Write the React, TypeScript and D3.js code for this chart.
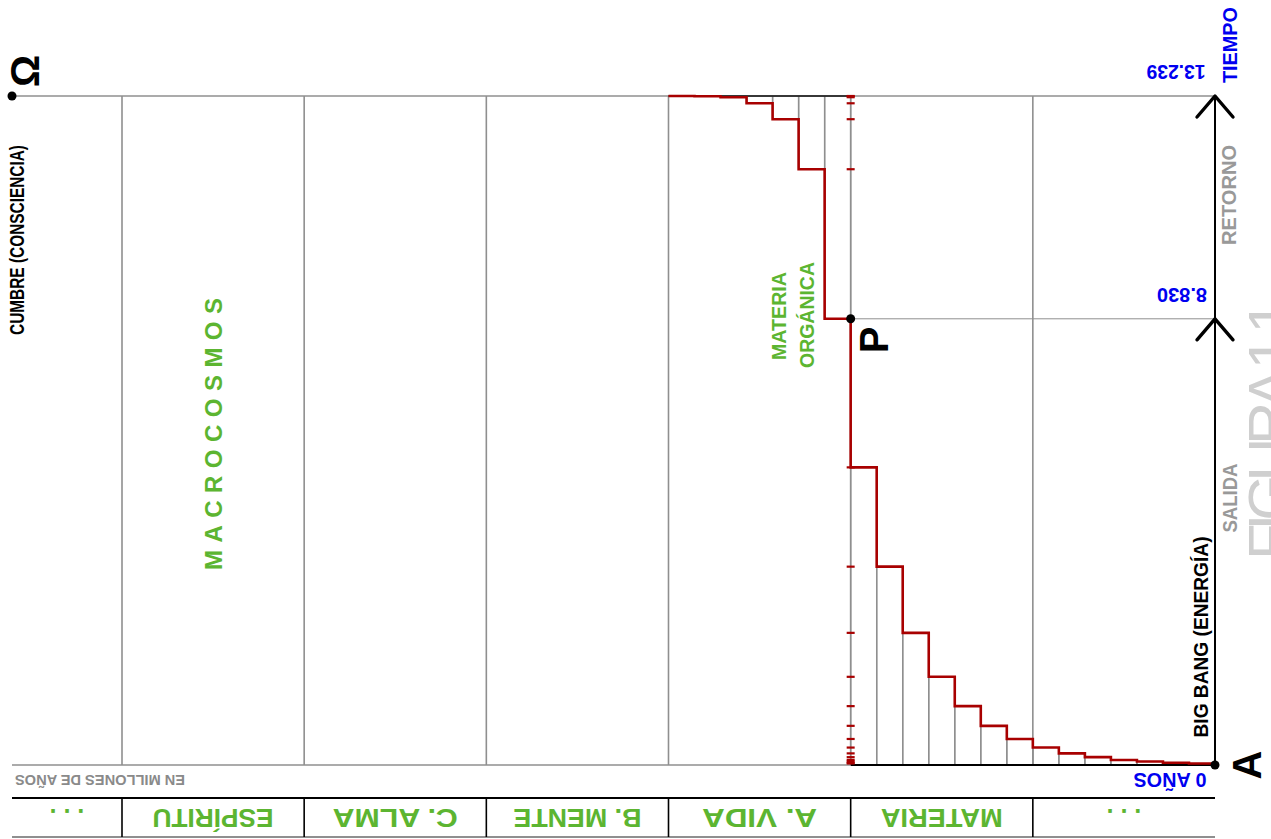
import React, { useEffect } from 'react';
import * as d3 from 'd3';

// time axis, millions of years
const TOTAL_AGE = 13239;
const P_AGE = 8830;
const timeTicks = [13239, 8830, 0];
const timeTickLabels = ['13.239', '8.830', '0 AÑOS'];

// bottom table, one label per column (first column is the narrow one)
const columnLabels = ['. . .', 'ESPÍRITU', 'C. ALMA', 'B. MENTE', 'A. VIDA', 'MATERIA', '. . .'];
const columnLabelWidths = [0, 121, 125, 128, 115, 122, 0];

// red staircase: one level per seventh of a column
const stepsVida = [13239, 13234, 13215, 13095, 12780, 11790, 8830];
const stepsMateria = [5890, 3925, 2615, 1745, 1165, 775, 515, 345, 230, 155, 100, 68, 45, 30];

const W = 1271;
const H = 839;
const LEFT = 12;
const FONT = '"Liberation Sans", Arial, sans-serif';
const RED = '#a80000';
const GREEN = '#5cb531';
const BLUE = '#0000f0';
const GRID = '#8f8f8f';

type VText = {
    text: string; cx: number; cy: number; len?: number; size: number;
    color: string; rot: number; weight?: string | number; spacing?: boolean;
};

const T = ({ t }: { t: VText }) => (
    <text
        transform={`translate(${t.cx},${t.cy}) rotate(${t.rot})`}
        textAnchor="middle"
        dy="0.36em"
        fontFamily={FONT}
        fontWeight={t.weight ?? 'bold'}
        fontSize={t.size}
        fill={t.color}
        textLength={t.len}
        lengthAdjust={t.spacing ? 'spacing' : 'spacingAndGlyphs'}
    >
        {t.text}
    </text>
);

export default function App() {
    useEffect(() => {
        document.body.style.margin = '0';
    }, []);

    const x = d3.scaleLinear().domain([1, 7]).range([122, 1215]);
    const y = d3.scaleLinear().domain([0, TOTAL_AGE]).range([765, 96]);

    const yTop = y(TOTAL_AGE);
    const yBase = y(0);
    const xAxis = x(7);
    const xP = x(5);
    const yP = y(P_AGE);

    // staircase points
    const allSteps = [...stepsVida, ...stepsMateria];
    const stepX = (i: number) => x(4 + i / 7);
    const pts: [number, number][] = allSteps.map((v, i) => [stepX(i), y(v)]);
    pts.push([stepX(allSteps.length), y(allSteps[allSteps.length - 1])]);
    const stepLine = d3.line().curve(d3.curveStepAfter)(pts) || '';

    // thin gray bar edges under the staircase
    const barEdges: { x: number; y1: number; y2: number }[] = [];
    stepsVida.forEach((v, i) => {
        barEdges.push({ x: stepX(i), y1: yTop, y2: y(v) });
        barEdges.push({ x: stepX(i + 1), y1: yTop, y2: y(v) });
    });
    stepsMateria.forEach((v, i) => {
        const k = i + stepsVida.length;
        barEdges.push({ x: stepX(k), y1: yBase, y2: y(v) });
        barEdges.push({ x: stepX(k + 1), y1: yBase, y2: y(v) });
    });

    const colEdges = d3.range(1, 7);
    const colCenters = columnLabels.map((_, i) => (i === 0 ? (LEFT + x(1)) / 2 : x(i + 0.5)));

    const tableTop = 798;
    const tableBottom = 837;

    const texts: VText[] = [
        { text: 'Ω', cx: 25, cy: 71, size: 40, color: '#000', rot: -90 },
        { text: 'CUMBRE (CONSCIENCIA)', cx: 17, cy: 240, len: 190, size: 20, color: '#000', rot: -90 },
        { text: 'MACROCOSMOS', cx: 213, cy: 434, len: 272, size: 24, color: GREEN, rot: -90, spacing: true },
        { text: 'MATERIA', cx: 778, cy: 316, len: 88, size: 21, color: GREEN, rot: -90 },
        { text: 'ORGÁNICA', cx: 806, cy: 315, len: 106, size: 21, color: GREEN, rot: -90 },
        { text: 'P', cx: 874, cy: 340, size: 40, color: '#000', rot: -90 },
        { text: 'A', cx: 1247, cy: 765, size: 40, color: '#000', rot: -90 },
        { text: 'BIG BANG (ENERGÍA)', cx: 1200, cy: 637, len: 201, size: 21, color: '#000', rot: -90 },
        { text: 'SALIDA', cx: 1229, cy: 498, len: 69, size: 21, color: '#999', rot: -90 },
        { text: 'RETORNO', cx: 1228, cy: 195, len: 100, size: 21, color: '#999', rot: -90 },
        { text: 'TIEMPO', cx: 1229, cy: 45, len: 76, size: 21, color: BLUE, rot: -90 },
        { text: 'EN MILLONES DE AÑOS', cx: 100, cy: 780, len: 170, size: 14, color: '#8a8a8a', rot: 180 },
    ];

    const tickLabelPos = [
        { cx: 1176, cy: 72, len: 59 },
        { cx: 1182, cy: 295, len: 50 },
        { cx: 1170, cy: 780, len: 73 },
    ];

    return (
        <svg width={W} height={H} style={{ display: 'block', background: '#fff' }}>
            {/* faint page title cut by the right edge */}
            <text
                transform={`translate(1290,430) rotate(-90)`}
                textAnchor="middle"
                fontFamily={FONT}
                fontSize={60}
                fill="#cfcfcf"
                textLength={260}
                lengthAdjust="spacing"
            >
                FIGURA 1.1
            </text>

            {/* column separators */}
            {colEdges.map(c => (
                <line key={'c' + c} x1={x(c)} x2={x(c)} y1={yTop} y2={yBase} stroke={GRID} strokeWidth={1.6} />
            ))}

            {/* bar edges */}
            {barEdges.map((b, i) => (
                <line key={'b' + i} x1={b.x} x2={b.x} y1={b.y1} y2={b.y2} stroke={GRID} strokeWidth={1.4} />
            ))}

            {/* top and base lines */}
            <line x1={LEFT} x2={xAxis} y1={yTop} y2={yTop} stroke={GRID} strokeWidth={1.6} />
            <line x1={x(4)} x2={xP} y1={yTop} y2={yTop} stroke="#111" strokeWidth={1.6} />
            <line x1={LEFT} x2={xP} y1={yBase} y2={yBase} stroke={GRID} strokeWidth={1.6} />
            <line x1={xP} x2={xAxis} y1={yBase} y2={yBase} stroke="#000" strokeWidth={2} />
            <line x1={xP} x2={xAxis} y1={yP} y2={yP} stroke={GRID} strokeWidth={1} />

            {/* red ticks projected on the P column */}
            {allSteps.map((v, i) => (
                <line key={'t' + i} x1={xP - 4} x2={xP + 4} y1={y(v)} y2={y(v)} stroke={RED} strokeWidth={2.2} />
            ))}

            {/* staircase */}
            <path d={stepLine} fill="none" stroke={RED} strokeWidth={2.6} />

            {/* time axis */}
            <line x1={xAxis} x2={xAxis} y1={yTop} y2={yBase} stroke="#000" strokeWidth={2} />
            {[TOTAL_AGE, P_AGE].map(v => (
                <polyline
                    key={'a' + v}
                    points={`${xAxis - 18},${y(v) + 21} ${xAxis},${y(v)} ${xAxis + 18},${y(v) + 21}`}
                    fill="none"
                    stroke="#000"
                    strokeWidth={3.4}
                    strokeLinecap="round"
                    strokeLinejoin="round"
                />
            ))}

            {timeTicks.map((v, i) => (
                <text
                    key={'l' + v}
                    transform={`translate(${tickLabelPos[i].cx},${tickLabelPos[i].cy}) rotate(180)`}
                    textAnchor="middle"
                    dy="0.36em"
                    fontFamily={FONT}
                    fontWeight="bold"
                    fontSize={20}
                    fill={BLUE}
                    textLength={tickLabelPos[i].len}
                    lengthAdjust="spacingAndGlyphs"
                >
                    {timeTickLabels[i]}
                </text>
            ))}

            {/* dots */}
            <circle cx={LEFT} cy={yTop} r={4.5} fill="#000" />
            <circle cx={xP} cy={yP} r={4.5} fill="#000" />
            <circle cx={xAxis} cy={yBase} r={4.5} fill="#000" />

            {texts.map((t, i) => <T key={'x' + i} t={t} />)}

            {/* bottom table */}
            <line x1={LEFT} x2={xAxis} y1={tableTop} y2={tableTop} stroke="#000" strokeWidth={2} />
            <line x1={LEFT} x2={xAxis} y1={tableBottom} y2={tableBottom} stroke={GRID} strokeWidth={2} />
            {colEdges.map(c => (
                <line key={'s' + c} x1={x(c)} x2={x(c)} y1={tableTop} y2={tableBottom} stroke="#000" strokeWidth={1.6} />
            ))}
            {columnLabels.map((lab, i) => (
                <text
                    key={'k' + i}
                    transform={`translate(${colCenters[i]},${(tableTop + tableBottom) / 2}) rotate(180)`}
                    textAnchor="middle"
                    dy="0.36em"
                    fontFamily={FONT}
                    fontWeight="bold"
                    fontSize={25}
                    fill={GREEN}
                    textLength={columnLabelWidths[i] || undefined}
                    lengthAdjust="spacingAndGlyphs"
                >
                    {lab}
                </text>
            ))}
        </svg>
    );
}
